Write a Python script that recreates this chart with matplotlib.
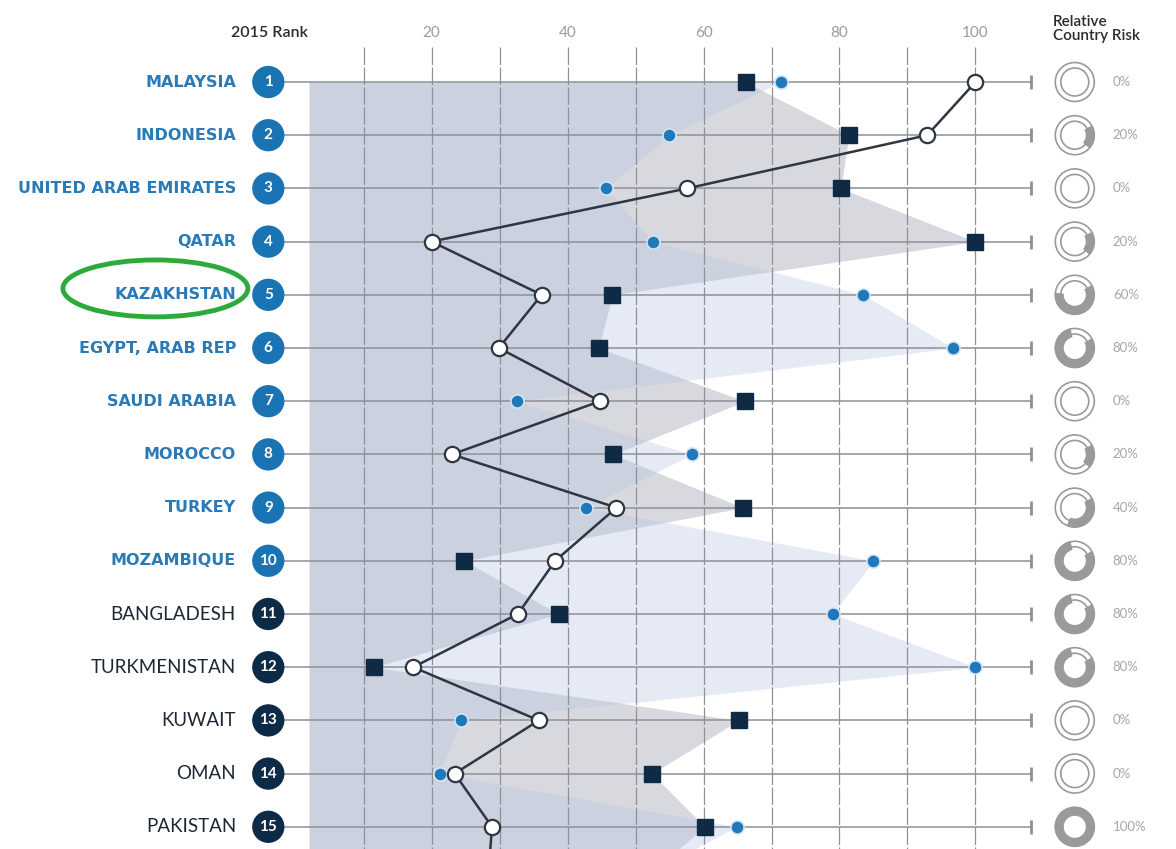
import numpy as np
import matplotlib
matplotlib.use("Agg")
import matplotlib.pyplot as plt
from matplotlib.patches import Wedge, Circle, Ellipse
from matplotlib.transforms import ScaledTranslation

plt.rcParams['font.family'] = ['Lato', 'DejaVu Sans']

# data (score scale 0-100)
countries = ['MALAYSIA', 'INDONESIA', 'UNITED ARAB EMIRATES', 'QATAR', 'KAZAKHSTAN',
             'EGYPT, ARAB REP', 'SAUDI ARABIA', 'MOROCCO', 'TURKEY', 'MOZAMBIQUE',
             'BANGLADESH', 'TURKMENISTAN', 'KUWAIT', 'OMAN', 'PAKISTAN']
ranks = list(range(1, 16))
overall = [100, 92.9, 57.6, 20, 36.2, 29.9, 44.8, 23.0, 47.2, 38.2, 32.7, 17.3, 35.8, 23.4, 28.9]
squares = [66.2, 81.4, 80.2, 100, 46.6, 44.6, 66.1, 46.7, 65.8, 24.8, 38.7, 11.5, 65.2, 52.4, 60.2]
dots = [71.4, 54.9, 45.7, 52.5, 83.5, 96.7, 32.5, 58.3, 42.7, 85.0, 79.0, 100, 24.3, 21.2, 64.9]
risk = [0, 20, 0, 20, 60, 80, 0, 20, 40, 80, 80, 80, 0, 0, 100]
# row 16 is cut off at the bottom edge, only its start is visible
next_overall, next_square, next_dot = 28.3, 51, 50
ticks = [20, 40, 60, 80, 100]

highlight = 'KAZAKHSTAN'
n_blue = 10

fig = plt.figure(figsize=(11.76, 8.49), dpi=100)
ax = fig.add_axes([0, 0, 1, 1])
ax.set_xlim(-295.5 / 6.8, (1176 - 295.5) / 6.8)
ax.set_ylim(1 + (849 - 82) / 53.2, 1 - 82 / 53.2)
ax.axis('off')

rows = np.array(ranks, dtype=float)
rows_ext = np.append(rows, 16)
grid_c = '#8d9099'

# shaded areas behind the marks
ax.fill_betweenx(rows_ext, 2, squares + [next_square], color='#a9acb6', alpha=0.45, lw=0, zorder=1)
ax.fill_betweenx(rows_ext, 2, dots + [next_dot], color='#b5c3e0', alpha=0.35, lw=0, zorder=1)

# grid
for v in range(10, 101, 10):
    ax.plot([v, v], [0.34, 16], color=grid_c, lw=0.9, dashes=(14, 2), zorder=2)
ax.hlines(rows, -3, 108.2, color=grid_c, lw=1.1, zorder=2)
ax.plot([108.2] * len(rows), rows, ls='none', marker='|', ms=10, mew=2, color=grid_c, zorder=2)

for t in ticks:
    ax.text(t, 0.08, str(t), ha='center', va='center', fontsize=11, color='#9b9b9b')
ax.text(-3.8, 0.08, '2015 Rank', ha='center', va='center', fontsize=11.5, color='#2b2b2b',
        fontweight='semibold')
ax.text(111.4, 0.0, 'Relative\nCountry Risk', ha='left', va='center', fontsize=11,
        color='#2b2b2b', linespacing=1.05, fontweight='semibold')

# series
ax.plot(overall + [next_overall], rows_ext, color='#2e3642', lw=1.8, zorder=4)
ax.plot(squares, rows, ls='none', marker='s', ms=11, color='#0e2a45', zorder=5)
ax.plot(dots, rows, ls='none', marker='o', ms=9.5, color='#1f78b9', mec='#d3e5f5', mew=1.2, zorder=5)
ax.plot(overall, rows, ls='none', marker='o', ms=11, mfc='white', mec='#2e3642', mew=1.6, zorder=6)

# rank badges and country names
badge_c = ['#1a73b3' if r <= n_blue else '#0d2a47' for r in ranks]
ax.scatter([-4.0] * len(rows), rows, s=540, c=badge_c, zorder=6, lw=0)
for r, name in zip(ranks, countries):
    ax.text(-4.0, r, str(r), ha='center', va='center', color='white', fontsize=11,
            fontweight='bold', zorder=7)
    if r <= n_blue:
        ax.text(-8.75, r, name, ha='right', va='center', color='#2a7ab8', fontsize=11.5,
                fontweight='bold', family=['DejaVu Sans'])
    else:
        ax.text(-8.75, r, name, ha='right', va='center', color='#1d2633', fontsize=13.5)

k = countries.index(highlight) + 1
ax.add_patch(Ellipse((-20.6, k - 0.12), 27.2, 1.07, fill=False, ec='#2eaa3c', lw=3.5, zorder=8))

# relative country risk rings
ring_c = '#9a9a9a'
for r, p in zip(ranks, risk):
    tr = fig.dpi_scale_trans + ScaledTranslation(114.6, r, ax.transData)
    ax.add_patch(Circle((0, 0), 0.195, fill=False, ec=ring_c, lw=1.2, transform=tr, clip_on=False))
    ax.add_patch(Circle((0, 0), 0.14, fill=False, ec=ring_c, lw=1.2, transform=tr, clip_on=False))
    if p > 0:
        ax.add_patch(Wedge((0, 0), 0.2, 30 - 3.6 * p, 30, width=0.09, color=ring_c, lw=0,
                           transform=tr, clip_on=False))
    ax.text(120.2, r, f'{p}%', ha='left', va='center', fontsize=9.5, color='#a6a6a6')

fig.savefig('out.png', dpi=100)
